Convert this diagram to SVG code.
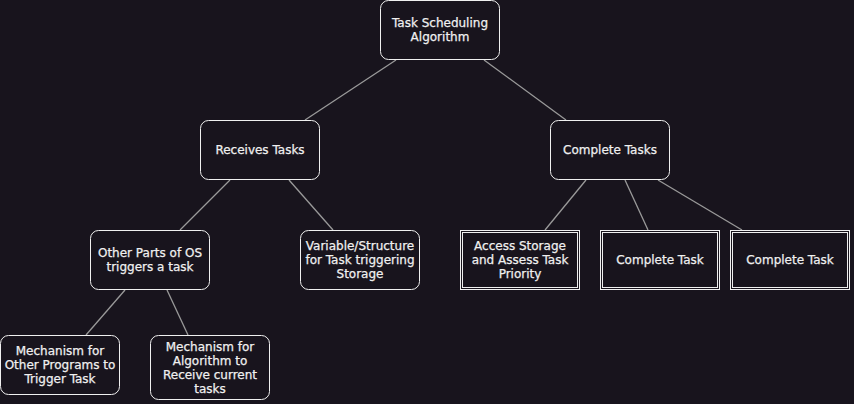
<svg xmlns="http://www.w3.org/2000/svg" width="854" height="404" viewBox="0 0 854 404">
<style>
.bg{fill:#18141d}
.n rect{fill:#18141d;stroke:#f0f0f0;stroke-width:1}
.n text{fill:#f0f0f0;stroke:#f0f0f0;stroke-width:0.25;font-family:"DejaVu Sans",sans-serif;font-size:12px;text-anchor:middle}
.e line{stroke:#9a9a9a;stroke-width:1.3}
</style>
<rect class="bg" x="0" y="0" width="854" height="404"/>
<g id="edges" class="e">
<line x1="396" y1="60" x2="305" y2="120"/>
<line x1="484" y1="60" x2="566" y2="120"/>
<line x1="230" y1="180" x2="180" y2="230"/>
<line x1="289" y1="180" x2="333" y2="230"/>
<line x1="586" y1="180" x2="545" y2="230"/>
<line x1="625" y1="180" x2="648" y2="230"/>
<line x1="658" y1="180" x2="742" y2="230"/>
<line x1="125" y1="290" x2="86" y2="335"/>
<line x1="167" y1="290" x2="188" y2="335"/>
</g>
<g id="n-root" class="n"><rect x="380.5" y="0.5" width="119" height="59" rx="8"/><text x="440" y="27">Task Scheduling</text><text x="440" y="41">Algorithm</text></g>
<g id="n-receives" class="n"><rect x="200.5" y="120.5" width="119" height="59" rx="8"/><text x="260" y="154">Receives Tasks</text></g>
<g id="n-complete" class="n"><rect x="550.5" y="120.5" width="119" height="59" rx="8"/><text x="610" y="154">Complete Tasks</text></g>
<g id="n-other" class="n"><rect x="90.5" y="230.5" width="119" height="59" rx="8"/><text x="150" y="257">Other Parts of OS</text><text x="150" y="271">triggers a task</text></g>
<g id="n-variable" class="n"><rect x="300.5" y="230.5" width="119" height="59" rx="8"/><text x="360" y="250">Variable/Structure</text><text x="360" y="264">for Task triggering</text><text x="360" y="278">Storage</text></g>
<g id="n-access" class="n"><rect x="460.5" y="230.5" width="119" height="59"/><rect x="462.5" y="232.5" width="115" height="55"/><text x="520" y="250">Access Storage</text><text x="520" y="264">and Assess Task</text><text x="520" y="278">Priority</text></g>
<g id="n-ct1" class="n"><rect x="600.5" y="230.5" width="119" height="59"/><rect x="602.5" y="232.5" width="115" height="55"/><text x="660" y="264">Complete Task</text></g>
<g id="n-ct2" class="n"><rect x="730.5" y="230.5" width="119" height="59"/><rect x="732.5" y="232.5" width="115" height="55"/><text x="790" y="264">Complete Task</text></g>
<g id="n-mech1" class="n"><rect x="0.5" y="335.5" width="119" height="59" rx="8"/><text x="60" y="355">Mechanism for</text><text x="60" y="369">Other Programs to</text><text x="60" y="383">Trigger Task</text></g>
<g id="n-mech2" class="n"><rect x="150.5" y="335.5" width="119" height="64" rx="8"/><text x="210" y="351">Mechanism for</text><text x="210" y="365">Algorithm to</text><text x="210" y="379">Receive current</text><text x="210" y="393">tasks</text></g>
</svg>
